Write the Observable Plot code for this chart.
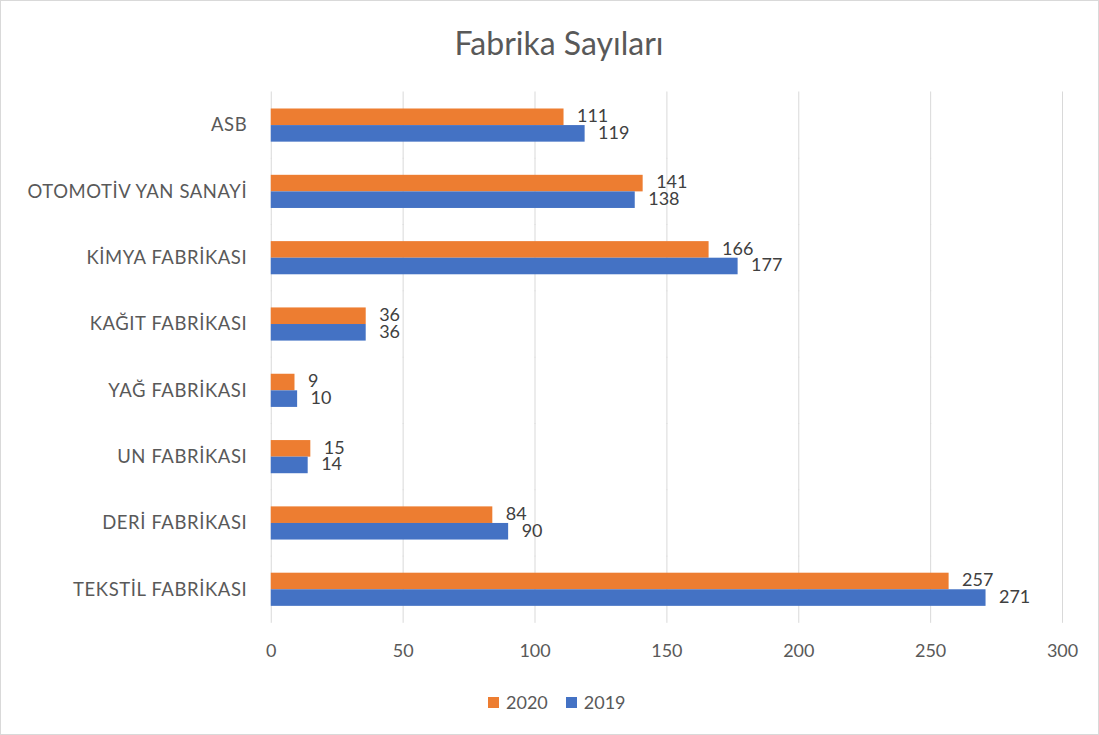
<!DOCTYPE html>
<html>
<head>
<meta charset="utf-8">
<script src="https://cdn.jsdelivr.net/npm/d3@7"></script>
<script src="https://cdn.jsdelivr.net/npm/@observablehq/plot@0.6"></script>
<style>
  html, body { margin: 0; padding: 0; background: #fff; }
  #wrap { position: relative; width: 1097px; height: 733px; border: 1px solid #D9D9D9; overflow: hidden; font-family: Lato, "Open Sans", sans-serif; }
  #title { position: absolute; left: 0; width: 1116px; top: 22px; text-align: center; font-size: 32px; color: #595959; line-height: 40px; }
  #chart { position: absolute; left: -1px; top: -1px; }
  #legend { position: absolute; left: 487px; top: 690px; display: flex; gap: 18px; font-size: 18px; color: #595959; line-height: 22px; }
  .item { display: flex; align-items: center; gap: 7px; }
  .sw { width: 11px; height: 11px; display: inline-block; }
</style>
</head>
<body>
<div id="wrap">
  <div id="title">Fabrika Sayıları</div>
  <div id="chart"></div>
  <div id="legend"></div>
</div>
<script>
const categories = ["ASB", "OTOMOTİV YAN SANAYİ", "KİMYA FABRİKASI", "KAĞIT FABRİKASI", "YAĞ FABRİKASI", "UN FABRİKASI", "DERİ FABRİKASI", "TEKSTİL FABRİKASI"];
const values2020 = [111, 141, 166, 36, 9, 15, 84, 257];
const values2019 = [119, 138, 177, 36, 10, 14, 90, 271];
const series = ["2020", "2019"];
const colors = ["#ED7D31", "#4472C4"];
const xTicks = [0, 50, 100, 150, 200, 250, 300];

const data = categories.flatMap((c, i) => [
  {category: c, year: "2020", value: values2020[i]},
  {category: c, year: "2019", value: values2019[i]}
]);

const chart = Plot.plot({
  width: 1099,
  height: 735,
  marginLeft: 271,
  marginRight: 36,
  marginTop: 92,
  marginBottom: 112,
  style: {fontFamily: "Lato, 'Open Sans', sans-serif", fontSize: "18px", color: "#595959", background: "transparent"},
  x: {domain: [0, 300], ticks: xTicks, tickSize: 0, tickPadding: 38, label: null},
  y: {domain: series, axis: null, padding: 0, round: false},
  fy: {domain: categories, paddingInner: 0.5, paddingOuter: 0.25, round: false, axis: "left", tickSize: 0, tickPadding: 24, label: null},
  color: {domain: series, range: colors},
  marks: [
    Plot.ruleX(xTicks, {x: d => d, stroke: "#D9D9D9", strokeWidth: 1, insetTop: -17, insetBottom: -17}),
    Plot.barX(data, {x: "value", y: "year", fy: "category", fill: "year"}),
    Plot.text(data, {x: "value", y: "year", fy: "category", text: d => String(d.value), dx: 13, dy: -1, textAnchor: "start", fill: "#404040", fontSize: 18})
  ]
});
chart.querySelectorAll("g[aria-label='fy-axis tick label'] text, g[aria-label='fy-axis tick label']").forEach(el => {
  el.style.fontSize = "18.5px";
  el.style.letterSpacing = "0.6px";
});
document.getElementById("chart").appendChild(chart);

const legend = document.getElementById("legend");
series.forEach((s, i) => {
  const item = document.createElement("div");
  item.className = "item";
  const sw = document.createElement("span");
  sw.className = "sw";
  sw.style.background = colors[i];
  const t = document.createElement("span");
  t.textContent = s;
  item.appendChild(sw);
  item.appendChild(t);
  legend.appendChild(item);
});
</script>
</body>
</html>
